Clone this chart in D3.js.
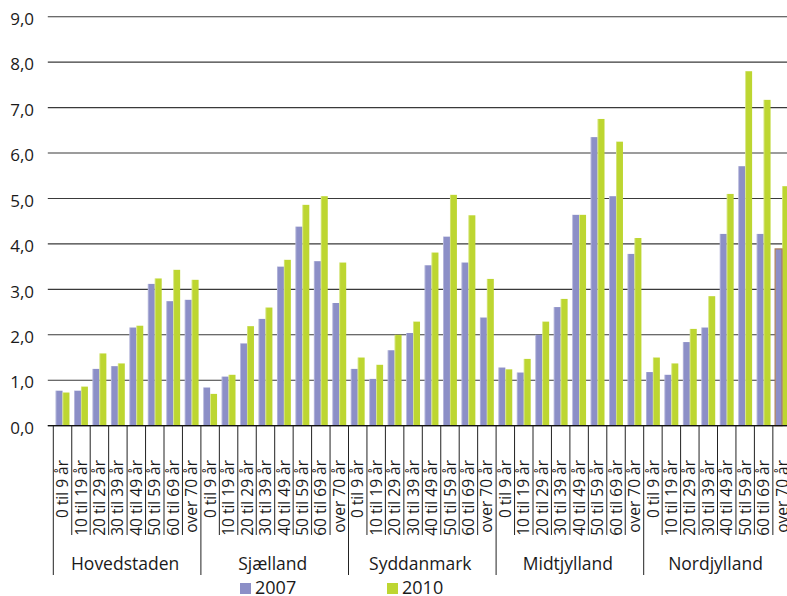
<!DOCTYPE html>
<html>
<head>
<meta charset="utf-8">
<script src="https://cdn.jsdelivr.net/npm/d3@7"></script>
<style>
  body { margin: 0; background: #fff; }
  svg { display: block; }
  text { font-family: "Open Sans", sans-serif; fill: #1a1a1a; }
</style>
</head>
<body>
<svg id="chart" width="787" height="596"></svg>
<script>
// Regions and age groups (x axis, two levels)
const regions = ["Hovedstaden", "Sjælland", "Syddanmark", "Midtjylland", "Nordjylland"];
const ageGroups = ["0 til 9 år", "10 til 19 år", "20 til 29 år", "30 til 39 år",
                   "40 til 49 år", "50 til 59 år", "60 til 69 år", "over 70 år"];
const seriesNames = ["2007", "2010"];

// Values per region, in age-group order
const values2007 = [
  0.77, 0.77, 1.25, 1.31, 2.16, 3.12, 2.74, 2.77,   // Hovedstaden
  0.84, 1.08, 1.81, 2.35, 3.50, 4.38, 3.62, 2.70,   // Sjælland
  1.25, 1.03, 1.66, 2.04, 3.53, 4.16, 3.59, 2.38,   // Syddanmark
  1.28, 1.17, 2.00, 2.61, 4.64, 6.35, 5.05, 3.78,   // Midtjylland
  1.18, 1.12, 1.84, 2.16, 4.22, 5.71, 4.22, 3.89    // Nordjylland
];
const values2010 = [
  0.73, 0.86, 1.59, 1.37, 2.20, 3.24, 3.43, 3.21,
  0.70, 1.12, 2.19, 2.60, 3.65, 4.86, 5.05, 3.59,
  1.50, 1.34, 2.00, 2.29, 3.81, 5.08, 4.63, 3.23,
  1.24, 1.47, 2.29, 2.79, 4.64, 6.75, 6.25, 4.13,
  1.50, 1.37, 2.13, 2.85, 5.10, 7.80, 7.17, 5.27
];
const yTicks = [0, 1, 2, 3, 4, 5, 6, 7, 8, 9];

const colors = { "2007": "#8c8fc7", "2010": "#bdd631" };

const W = 787, H = 596;
const plot = { left: 53.3, right: 791.3, top: 16.7, bottom: 425.7 };

// Flattened category list (region x age group)
const cats = [];
regions.forEach((r, ri) => ageGroups.forEach((a, ai) => {
  const i = ri * ageGroups.length + ai;
  cats.push({ key: i, region: r, age: a, "2007": values2007[i], "2010": values2010[i] });
}));

const svg = d3.select("#chart");

const x = d3.scaleBand().domain(cats.map(d => d.key)).range([plot.left, plot.right]);
const xSub = d3.scaleBand().domain(seriesNames).range([0, x.bandwidth()]).paddingOuter(0.33);
const y = d3.scaleLinear().domain([0, 9]).range([plot.bottom, plot.top]);

const locale = d3.formatLocale({ decimal: ",", thousands: ".", grouping: [3], currency: ["", " kr."] });
const fmt = locale.format(".1f");

// Horizontal gridlines
svg.append("g")
  .selectAll("line")
  .data(yTicks)
  .join("line")
  .attr("x1", plot.left - 5.5)
  .attr("x2", W)
  .attr("y1", d => y(d))
  .attr("y2", d => y(d))
  .attr("stroke", "#3a3a3a")
  .attr("stroke-width", 1.1);

// Y axis labels
const yAxis = d3.axisLeft(y).tickValues(yTicks).tickFormat(fmt).tickSize(0).tickPadding(0);
const yG = svg.append("g").attr("transform", `translate(34,0)`).call(yAxis);
yG.select(".domain").remove();
yG.selectAll("text")
  .attr("font-family", "Open Sans, sans-serif")
  .attr("font-size", 17)
  .attr("fill", "#1a1a1a")
  .attr("dy", "0.45em");

// Bars
const barG = svg.append("g");
seriesNames.forEach(s => {
  barG.append("g")
    .selectAll("rect")
    .data(cats)
    .join("rect")
    .attr("x", d => x(d.key) + xSub(s))
    .attr("width", xSub.bandwidth())
    .attr("y", d => y(d[s]))
    .attr("height", d => y(0) - y(d[s]))
    .attr("fill", colors[s]);
  // light edge on the left side of each bar
  barG.append("g")
    .selectAll("line")
    .data(cats)
    .join("line")
    .attr("x1", d => x(d.key) + xSub(s) + 0.4)
    .attr("x2", d => x(d.key) + xSub(s) + 0.4)
    .attr("y1", d => y(d[s]))
    .attr("y2", y(0))
    .attr("stroke", "#ffffff")
    .attr("stroke-opacity", 0.45)
    .attr("stroke-width", 0.8);
});

// Outlined bar (last 2007 bar)
const lastCat = cats[cats.length - 1];
barG.append("rect")
  .attr("x", x(lastCat.key) + xSub("2007"))
  .attr("width", xSub.bandwidth())
  .attr("y", y(lastCat["2007"]))
  .attr("height", y(0) - y(lastCat["2007"]))
  .attr("fill", "none")
  .attr("stroke", "#a77a55")
  .attr("stroke-width", 1.2);

// Baseline
svg.append("line")
  .attr("x1", plot.left - 5.5).attr("x2", W)
  .attr("y1", y(0)).attr("y2", y(0))
  .attr("stroke", "#111").attr("stroke-width", 1.2);

// Category separators (short) and region separators (long)
const bounds = d3.range(cats.length + 1);
svg.append("g")
  .selectAll("line")
  .data(bounds)
  .join("line")
  .attr("x1", i => plot.left + i * x.step())
  .attr("x2", i => plot.left + i * x.step())
  .attr("y1", y(0))
  .attr("y2", i => (i % ageGroups.length === 0) ? 575 : 535)
  .attr("stroke", "#222")
  .attr("stroke-width", 1);

// Age group labels (rotated)
svg.append("g")
  .selectAll("text")
  .data(cats)
  .join("text")
  .attr("transform", d => `translate(${x(d.key) + x.bandwidth() / 2},460) rotate(-90)`)
  .attr("text-anchor", "end")
  .attr("dy", "0.36em")
  .attr("font-size", 15.5)
  .text(d => d.age);

// Region labels
svg.append("g")
  .selectAll("text")
  .data(regions)
  .join("text")
  .attr("x", (r, ri) => plot.left + (ri + 0.5) * ageGroups.length * x.step() - 2)
  .attr("y", 569.5)
  .attr("text-anchor", "middle")
  .attr("font-size", 17.5)
  .text(r => r);

// Legend
const legend = svg.append("g");
const legendPos = [240, 387];
seriesNames.forEach((s, i) => {
  legend.append("rect")
    .attr("x", legendPos[i]).attr("y", 583)
    .attr("width", 11).attr("height", 11)
    .attr("fill", colors[s]);
  legend.append("text")
    .attr("x", legendPos[i] + 15).attr("y", 594)
    .attr("font-size", 18)
    .text(s);
});
</script>
</body>
</html>
